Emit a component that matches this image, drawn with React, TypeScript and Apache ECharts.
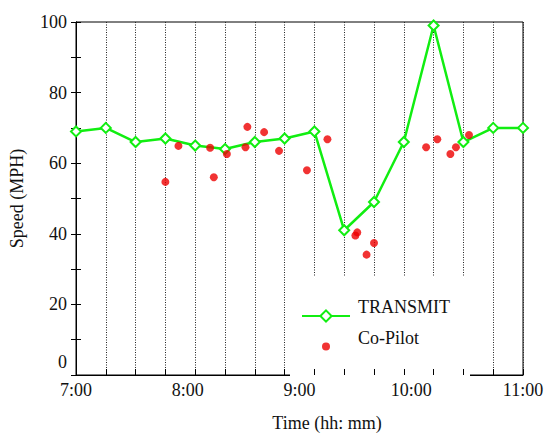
import React, { useEffect, useRef } from "react";
import * as echarts from "echarts";

const transmitTimes = ["7:00", "7:16", "7:32", "7:48", "8:04", "8:20", "8:36", "8:52", "9:08", "9:24", "9:40", "9:56", "10:12", "10:28", "10:44", "11:00"];
const transmitSpeeds = [69, 70, 66, 67, 65, 64, 66, 67, 69, 41, 49, 66, 99, 66, 70, 70];

const copilotTimes = ["7:48", "7:55", "8:12", "8:14", "8:21", "8:31", "8:32", "8:41", "8:49", "9:04", "9:15", "9:30", "9:31", "9:36", "9:40", "10:08", "10:14", "10:21", "10:24", "10:31"];
const copilotSpeeds = [54.7, 64.9, 64.4, 56.0, 62.6, 64.5, 70.3, 68.8, 63.5, 58.0, 66.8, 39.5, 40.4, 34.1, 37.4, 64.5, 66.8, 62.6, 64.5, 68.0];

const xTickLabels = ["7:00", "8:00", "9:00", "10:00", "11:00"];
const yTickLabels = [0, 20, 40, 60, 80, 100];

const START = "7:00";
const toMin = (s: string) => {
  const [h, m] = s.split(":").map(Number);
  return h * 60 + m;
};
const base = toMin(START);
const rel = (s: string) => toMin(s) - base;
const fmtTime = (v: number) => {
  const t = base + v;
  const h = Math.floor(t / 60);
  const m = t % 60;
  return `${h}:${m < 10 ? "0" + m : m}`;
};

const FONT = "Liberation Serif";
const GREEN = "#11ee11";
const RED = "#ee0000";
const DOT_ICON = "path://M0 0M14 14M3 7a4 4 0 1 0 8 0a4 4 0 1 0 -8 0Z";

export default function App() {
  const ref = useRef<HTMLDivElement>(null);
  useEffect(() => {
    if (!ref.current) return;
    const chart = echarts.init(ref.current, null, { renderer: "svg" });
    const xMax = rel(xTickLabels[xTickLabels.length - 1]);
    const xStep = rel(xTickLabels[1]);
    const gridStep = rel(transmitTimes[1]);
    const txt = { fontFamily: FONT, fontSize: 18, color: "#111" };
    chart.setOption({
      animation: false,
      backgroundColor: "#fff",
      textStyle: { fontFamily: FONT },
      grid: {
        left: 76,
        right: 22,
        top: 22,
        bottom: 60,
        show: true,
        borderColor: "#000",
        borderWidth: 1,
        outerBoundsMode: "none",
      },
      legend: {
        orient: "vertical",
        left: 290,
        top: 277,
        width: 170,
        backgroundColor: "#fff",
        padding: [21, 20, 23, 11],
        itemWidth: 48,
        itemHeight: 14,
        itemGap: 6,
        z: 4,
        formatter: (name: string) => `{a|${name}}`,
        textStyle: {
          ...txt,
          rich: { a: { ...txt, padding: [0, 0, 18, 3] } },
        },
        data: [
          { name: "TRANSMIT" },
          { name: "Co-Pilot", icon: DOT_ICON, itemStyle: { color: RED } },
        ],
      },
      xAxis: [
        {
          type: "value",
          min: 0,
          max: xMax,
          interval: xStep,
          position: "bottom",
          axisLine: { show: true, lineStyle: { color: "#000", width: 1 } },
          axisTick: { show: false },
          splitLine: { show: false },
          axisLabel: {
            ...txt,
            margin: 6,
            formatter: (v: number) => fmtTime(v),
          },
          name: "Time (hh: mm)",
          nameLocation: "middle",
          nameGap: 39,
          nameMoveOverlap: false,
          nameTextStyle: { ...txt, padding: [0, 0, 0, 55] },
        },
        {
          type: "value",
          min: 0,
          max: xMax,
          interval: gridStep,
          position: "bottom",
          z: 6,
          axisLine: { show: false },
          axisTick: { show: true, inside: true, length: 6, lineStyle: { color: "#000" } },
          axisLabel: { show: false },
          splitLine: { show: false },
        },
        {
          type: "value",
          min: 0,
          max: xMax,
          interval: gridStep,
          position: "bottom",
          z: 0,
          axisLine: { show: false },
          axisTick: { show: false },
          axisLabel: { show: false },
          splitLine: { show: true, lineStyle: { color: "#222", width: 1, type: [1, 1.5] } },
        },
      ],
      yAxis: [
        {
          type: "value",
          min: 0,
          max: 100,
          interval: 10,
          position: "left",
          axisLine: { show: true, lineStyle: { color: "#000", width: 1 } },
          axisTick: { show: true, inside: true, length: 5, lineStyle: { color: "#000" } },
          splitLine: { show: false },
          axisLabel: {
            ...txt,
            margin: 9,
            formatter: (v: number) => {
              if (!yTickLabels.includes(v)) return "";
              if (v === 0) return "{z|0}";
              return String(v);
            },
            rich: { z: { ...txt, padding: [0, 0, 26, 0] } },
          },
          name: "Speed (MPH)",
          nameLocation: "middle",
          nameGap: 50,
          nameMoveOverlap: false,
          nameTextStyle: txt,
        },
        {
          type: "value",
          min: 0,
          max: 100,
          interval: 10,
          position: "right",
          axisLine: { show: true, lineStyle: { color: "#000", width: 1 } },
          axisTick: { show: true, inside: true, length: 5, lineStyle: { color: "#000" } },
          splitLine: { show: false },
          axisLabel: { show: false },
        },
      ],
      series: [
        {
          name: "TRANSMIT",
          type: "line",
          xAxisIndex: 0,
          yAxisIndex: 0,
          data: transmitTimes.map((t, i) => [rel(t), transmitSpeeds[i]]),
          symbol: "diamond",
          symbolSize: 10,
          showAllSymbol: true,
          lineStyle: { color: GREEN, width: 2.5 },
          itemStyle: { color: "#fff", borderColor: GREEN, borderWidth: 2 },
          z: 3,
        },
        {
          name: "Co-Pilot",
          type: "scatter",
          xAxisIndex: 0,
          yAxisIndex: 0,
          data: copilotTimes.map((t, i) => [rel(t), copilotSpeeds[i]]),
          symbol: "circle",
          symbolSize: 8,
          itemStyle: { color: RED },
          z: 4,
        },
      ],
    });
    return () => chart.dispose();
  }, []);
  return (
    <>
      <style>{`#root svg text { font-family: "Liberation Serif", "Times New Roman", serif !important; }`}</style>
      <div ref={ref} style={{ width: 545, height: 435, position: "absolute", left: 0, top: 0 }} />
    </>
  );
}
